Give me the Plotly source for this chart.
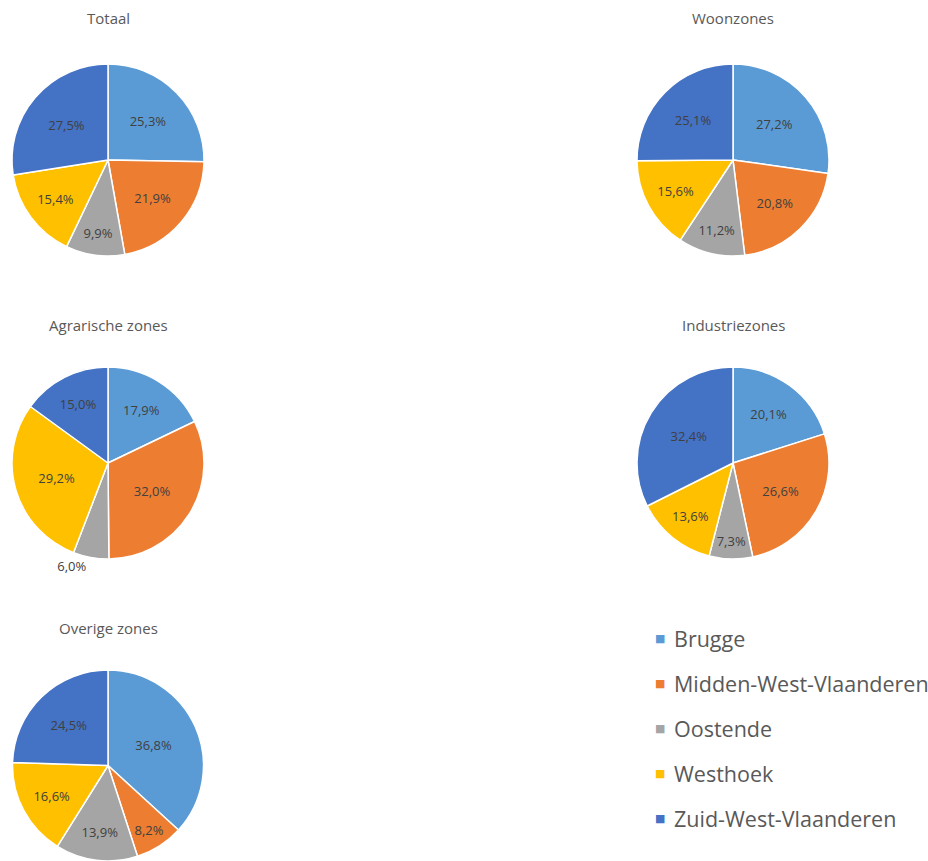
import plotly.graph_objects as go

categories = ["Brugge", "Midden-West-Vlaanderen", "Oostende", "Westhoek", "Zuid-West-Vlaanderen"]
colors = ["#5B9BD5", "#ED7D31", "#A5A5A5", "#FFC000", "#4472C4"]

totaal = [25.3, 21.9, 9.9, 15.4, 27.5]
woonzones = [27.2, 20.8, 11.2, 15.6, 25.1]
agrarische = [17.9, 32.0, 6.0, 29.2, 15.0]
industrie = [20.1, 26.6, 7.3, 13.6, 32.4]
overige = [36.8, 8.2, 13.9, 16.6, 24.5]

titles = ["Totaal", "Woonzones", "Agrarische zones", "Industriezones", "Overige zones"]
series = [totaal, woonzones, agrarische, industrie, overige]
textpos = [
    ["inside"] * 5,
    ["inside"] * 5,
    ["inside", "inside", "outside", "inside", "inside"],
    ["inside"] * 5,
    ["inside"] * 5,
]

W, H = 928, 861
# pie centers (px) and radius
centers = [(108, 160), (733, 160), (108, 463), (733, 463), (108, 766)]
R = 96
title_y = [18, 18, 325, 325, 628]

fig = go.Figure()
annotations = []
for i, (vals, t) in enumerate(zip(series, titles)):
    cx, cy = centers[i]
    x0, x1 = (cx - R) / W, (cx + R) / W
    y0, y1 = (H - cy - R) / H, (H - cy + R) / H
    y0 = max(0, y0)
    fig.add_trace(go.Pie(
        labels=categories,
        values=vals,
        text=[f"{v:.1f}".replace(".", ",") + "%" for v in vals],
        textinfo="text",
        textposition=textpos[i],
        insidetextorientation="horizontal",
        sort=False,
        direction="clockwise",
        rotation=0,
        marker=dict(colors=colors, line=dict(color="white", width=1.5)),
        textfont=dict(family="Open Sans", size=13, color="#404040"),
        outsidetextfont=dict(family="Open Sans", size=13, color="#404040"),
        domain=dict(x=[x0, x1], y=[y0, y1]),
        showlegend=False,
        hoverinfo="label+percent",
    ))
    annotations.append(dict(
        text=t, x=cx / W, y=1 - title_y[i] / H, xref="paper", yref="paper",
        showarrow=False, xanchor="center", yanchor="middle",
        font=dict(family="Open Sans", size=15, color="#595959"),
    ))

# legend built from categories
for j, (c, col) in enumerate(zip(categories, colors)):
    ly = 638 + 45 * j
    annotations.append(dict(
        text="■", x=660 / W, y=1 - ly / H, xref="paper", yref="paper",
        showarrow=False, xanchor="center", yanchor="middle",
        font=dict(family="DejaVu Sans", size=11, color=col),
    ))
    annotations.append(dict(
        text=c, x=672 / W, y=1 - ly / H, xref="paper", yref="paper",
        showarrow=False, xanchor="left", yanchor="middle",
        font=dict(family="Open Sans", size=21.5, color="#595959"),
    ))

fig.update_layout(
    width=W, height=H,
    margin=dict(l=0, r=0, t=0, b=0),
    paper_bgcolor="white",
    plot_bgcolor="white",
    annotations=annotations,
)

fig.write_html("out.html", config={"displayModeBar": False},
               post_script="document.body.style.margin='0';")
